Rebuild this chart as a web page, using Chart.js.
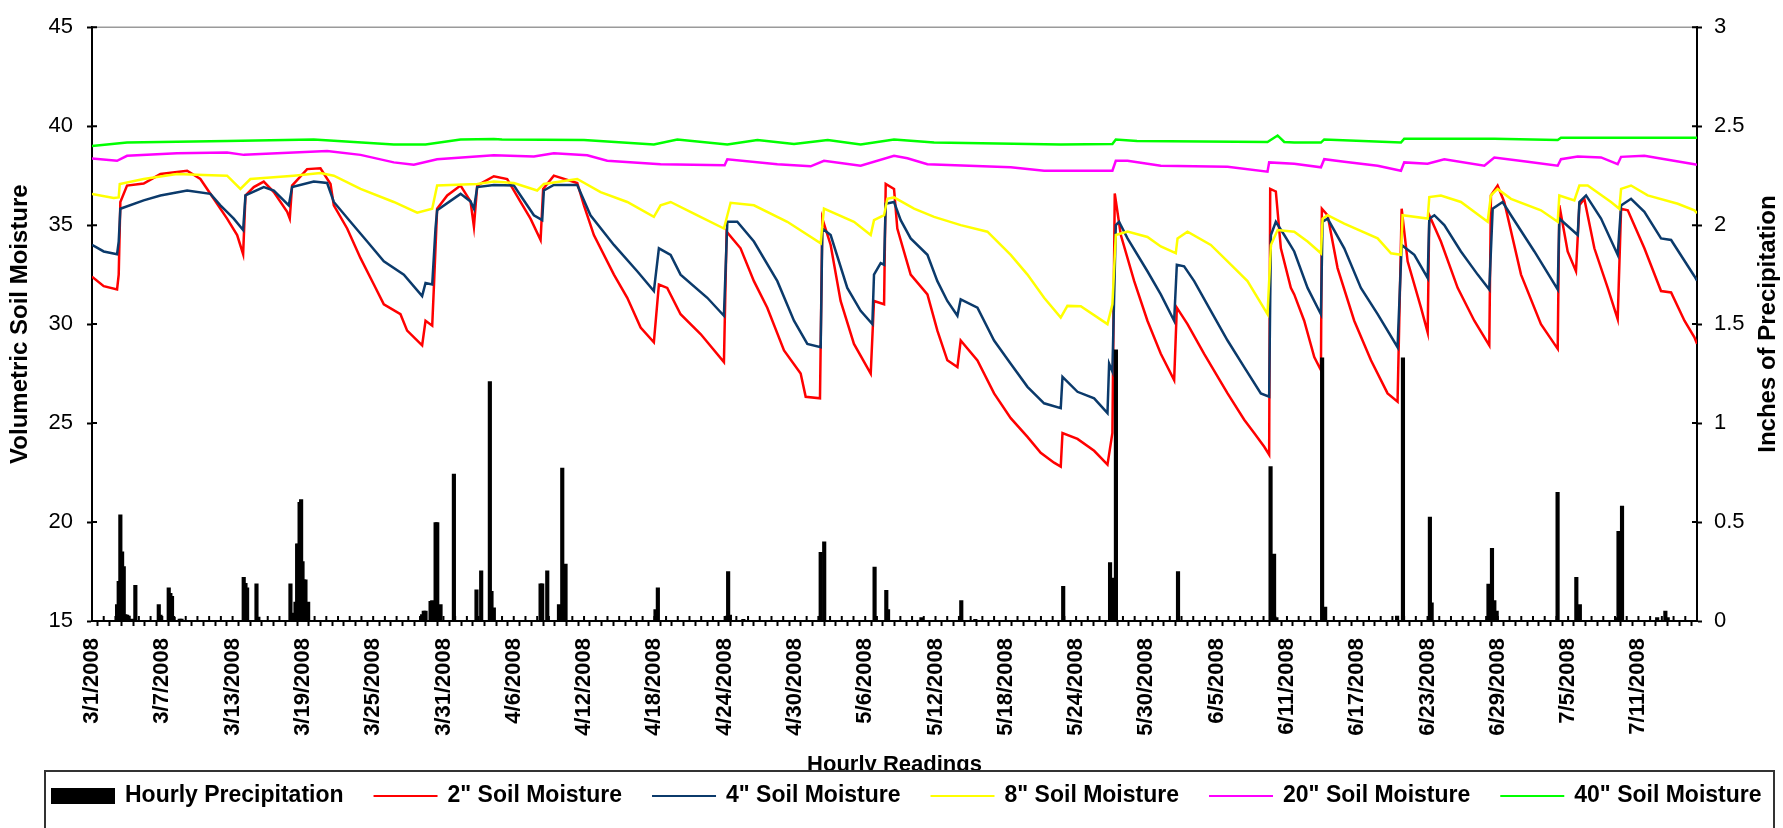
<!DOCTYPE html>
<html>
<head>
<meta charset="utf-8">
<title>Soil Moisture and Hourly Precipitation</title>
<script src="https://cdn.jsdelivr.net/npm/chart.js@4.4.1/dist/chart.umd.min.js"></script>
<style>
  html, body { margin: 0; padding: 0; background: #fff; }
  #wrap { width: 1783px; height: 828px; }
</style>
</head>
<body>
<div id="wrap"><canvas id="soilChart" width="1783" height="828"></canvas></div>
<script>
// x values are days since 3/1/2008 00:00 (hourly readings, axis runs 3/1 - 7/16)
const dateLabels = [
  "3/1/2008", "3/7/2008", "3/13/2008", "3/19/2008", "3/25/2008", "3/31/2008",
  "4/6/2008", "4/12/2008", "4/18/2008", "4/24/2008", "4/30/2008", "5/6/2008",
  "5/12/2008", "5/18/2008", "5/24/2008", "5/30/2008", "6/5/2008", "6/11/2008",
  "6/17/2008", "6/23/2008", "6/29/2008", "7/5/2008", "7/11/2008"
];

// [day, inches]
const rain = [
  [2.14, 0.083], [2.28, 0.2], [2.42, 0.537], [2.57, 0.35], [2.71, 0.275], [2.85, 0.033],
  [3.0, 0.03], [3.13, 0.025], [3.42, 0.01], [3.7, 0.18], [5.7, 0.083], [5.84, 0.03],
  [6.55, 0.167], [6.69, 0.14], [6.83, 0.125], [6.97, 0.02], [7.49, 0.01], [7.64, 0.01],
  [12.95, 0.22], [13.1, 0.19], [13.24, 0.167], [14.04, 0.188], [14.2, 0.02],
  [16.94, 0.188], [17.08, 0.04], [17.37, 0.095], [17.51, 0.39], [17.6, 0.388],
  [17.72, 0.6], [17.85, 0.613], [17.97, 0.3], [18.08, 0.208], [18.22, 0.208], [18.45, 0.095],
  [28.18, 0.033], [28.32, 0.05], [28.47, 0.05], [28.9, 0.1], [29.04, 0.103],
  [29.33, 0.497], [29.47, 0.497], [29.75, 0.083], [30.89, 0.742],
  [32.82, 0.158], [33.22, 0.253], [33.96, 1.21], [34.1, 0.15], [34.3, 0.067],
  [38.29, 0.188], [38.43, 0.188], [38.86, 0.253], [39.86, 0.083], [40.14, 0.772], [40.42, 0.287],
  [48.1, 0.058], [48.3, 0.167], [54.2, 0.025], [54.3, 0.25], [54.45, 0.03], [55.6, 0.008],
  [62.2, 0.347], [62.5, 0.4], [66.8, 0.272], [67.8, 0.155], [67.95, 0.058],
  [70.8, 0.017], [74.2, 0.103], [75.4, 0.008], [82.9, 0.175],
  [86.9, 0.295], [87.15, 0.217], [87.4, 1.37], [92.7, 0.25],
  [100.6, 0.78], [100.9, 0.338], [101.1, 0.017], [105.0, 1.33], [105.26, 0.07],
  [111.4, 0.025], [111.9, 1.33], [114.2, 0.525], [114.35, 0.092],
  [119.2, 0.187], [119.5, 0.367], [119.7, 0.103], [119.9, 0.05],
  [125.1, 0.65], [126.7, 0.22], [127.0, 0.083],
  [130.1, 0.017], [130.3, 0.453], [130.6, 0.58], [133.6, 0.017], [134.3, 0.05], [134.5, 0.017]
];

// [day, volumetric soil moisture]
const soil2 = [
  [0, 32.4], [1.0, 31.92], [2.14, 31.75], [2.28, 32.5], [2.42, 36.17], [2.99, 37.0],
  [4.41, 37.1], [5.84, 37.58], [8.12, 37.75], [9.25, 37.33], [10.39, 36.33], [11.53, 35.33],
  [12.39, 34.5], [12.9, 33.53], [13.1, 36.5], [13.81, 36.92], [14.66, 37.2], [15.52, 36.67],
  [16.66, 35.67], [16.88, 35.33], [17.08, 37.0], [18.36, 37.83], [19.5, 37.87], [20.36, 37.08],
  [20.64, 36.0], [21.78, 34.83], [22.92, 33.33], [24.06, 32.0], [24.91, 31.0], [26.33, 30.5],
  [26.9, 29.67], [28.18, 28.92], [28.47, 30.17], [29.04, 29.92], [29.18, 31.83], [29.46, 35.83],
  [30.32, 36.5], [31.46, 37.0], [32.31, 36.2], [32.6, 34.92], [32.88, 37.0], [34.3, 37.47],
  [35.44, 37.33], [36.58, 36.17], [37.43, 35.33], [38.29, 34.25], [38.51, 36.83], [39.42, 37.5],
  [41.42, 37.13], [41.99, 36.0], [42.84, 34.5], [44.55, 32.5], [45.69, 31.33], [46.83, 29.83],
  [47.96, 29.08], [48.39, 32.0], [49.1, 31.83], [50.24, 30.5], [51.95, 29.5], [53.94, 28.08],
  [54.17, 34.67], [55.36, 33.83], [56.5, 32.17], [57.64, 30.83], [59.07, 28.67], [60.49, 27.5],
  [60.92, 26.33], [62.14, 26.25], [62.34, 35.33], [63.05, 34.0], [63.9, 31.17], [65.04, 29.0],
  [66.47, 27.5], [66.75, 31.17], [67.61, 31.0], [67.75, 37.08], [68.46, 36.83],
  [68.74, 34.83], [69.88, 32.5], [71.31, 31.5], [72.16, 29.67], [73.01, 28.17], [73.87, 27.83],
  [74.15, 29.17], [75.58, 28.17], [77.0, 26.5], [78.42, 25.25], [79.85, 24.3], [80.98, 23.5],
  [82.12, 23.0], [82.69, 22.8], [82.84, 24.5], [84.12, 24.2], [85.54, 23.6], [86.68, 22.9],
  [87.1, 24.5], [87.3, 36.6], [87.82, 34.5], [88.96, 32.17], [90.09, 30.17], [91.23, 28.5],
  [92.37, 27.17], [92.6, 30.83], [93.51, 30.0], [94.93, 28.5], [96.93, 26.5], [98.35, 25.17],
  [99.2, 24.5], [100.06, 23.8], [100.48, 23.4], [100.57, 36.83], [101.05, 36.7], [101.48, 33.83],
  [102.33, 31.83], [102.62, 31.5], [103.47, 30.17], [104.33, 28.33], [104.9, 27.67], [104.98, 35.83],
  [105.47, 35.5], [106.32, 32.83], [107.74, 30.17], [109.17, 28.17], [110.59, 26.5], [111.44, 26.08],
  [111.79, 35.83], [112.3, 33.17], [113.44, 30.83], [114.01, 29.58], [114.15, 35.5], [115.14, 34.17],
  [116.57, 31.83], [117.99, 30.17], [119.27, 28.92], [119.41, 36.5], [119.98, 37.0], [120.55, 36.17],
  [121.98, 32.5], [123.68, 30.0], [125.11, 28.75], [125.25, 36.0], [125.96, 33.67], [126.67, 32.67],
  [126.96, 36.0], [127.38, 36.33], [128.24, 33.83], [129.38, 31.83], [130.23, 30.25], [130.52, 35.83],
  [131.09, 35.75], [132.51, 33.83], [133.93, 31.67], [134.79, 31.6], [135.93, 30.17], [136.78, 29.33],
  [137, 29.0]
];

const soil4 = [
  [0, 34.0], [1.0, 33.67], [2.14, 33.53], [2.28, 34.17], [2.42, 35.83], [4.41, 36.25],
  [5.84, 36.5], [8.12, 36.75], [10.11, 36.58], [10.96, 36.0], [12.1, 35.33], [12.9, 34.75],
  [13.1, 36.5], [14.66, 36.92], [15.52, 36.75], [16.8, 36.0], [17.08, 36.92], [18.93, 37.2],
  [20.07, 37.13], [20.64, 36.17], [22.06, 35.17], [23.49, 34.17], [24.91, 33.17], [26.62, 32.5],
  [28.18, 31.42], [28.47, 32.08], [29.04, 32.0], [29.32, 34.83], [29.46, 35.75], [31.46, 36.58],
  [32.31, 36.2], [32.6, 35.83], [32.88, 36.92], [34.3, 37.03], [36.01, 37.0], [36.58, 36.5],
  [37.72, 35.5], [38.43, 35.25], [38.57, 36.75], [39.42, 37.03], [41.42, 37.03], [42.55, 35.5],
  [44.55, 34.0], [46.54, 32.67], [47.96, 31.67], [48.39, 33.83], [49.39, 33.5], [50.24, 32.5],
  [52.52, 31.33], [53.94, 30.42], [54.23, 35.17], [55.08, 35.17], [56.5, 34.17], [58.5, 32.17],
  [59.92, 30.17], [61.06, 29.0], [62.2, 28.83], [62.34, 34.83], [63.05, 34.5], [64.47, 31.83],
  [65.61, 30.67], [66.61, 30.0], [66.75, 32.5], [67.32, 33.08], [67.61, 33.0], [67.75, 36.08],
  [68.46, 36.17], [69.03, 35.25], [69.88, 34.33], [71.31, 33.5], [72.16, 32.17], [73.01, 31.17],
  [73.87, 30.42], [74.15, 31.25], [75.58, 30.83], [77.0, 29.17], [78.42, 28.0], [79.85, 26.83],
  [81.27, 26.0], [82.69, 25.75], [82.84, 27.33], [84.12, 26.58], [85.54, 26.25], [86.68, 25.5],
  [86.82, 28.0], [87.1, 27.6], [87.39, 35.0], [87.67, 35.17], [88.39, 34.33], [90.09, 32.67],
  [91.23, 31.5], [92.37, 30.17], [92.6, 33.0], [93.22, 32.92], [94.08, 32.17], [95.5, 30.67],
  [96.93, 29.17], [98.35, 27.83], [99.77, 26.5], [100.48, 26.33], [100.63, 34.5], [101.05, 35.17],
  [101.77, 34.5], [102.62, 33.67], [103.76, 31.83], [104.9, 30.5], [105.04, 35.17], [105.47, 35.33],
  [106.89, 33.83], [108.31, 31.83], [109.74, 30.5], [111.44, 28.83], [111.79, 34.0], [112.87, 33.5],
  [114.01, 32.33], [114.15, 35.33], [114.58, 35.5], [115.43, 35.0], [116.85, 33.67], [118.28, 32.5],
  [119.27, 31.75], [119.56, 35.83], [120.41, 36.17], [121.12, 35.5], [123.12, 33.67], [125.11, 31.75],
  [125.25, 35.33], [126.82, 34.5], [126.96, 36.17], [127.53, 36.5], [128.81, 35.33], [130.23, 33.5],
  [130.52, 36.0], [131.37, 36.33], [132.51, 35.67], [133.93, 34.33], [134.79, 34.25], [136.78, 32.42],
  [137, 32.2]
];

const soil8 = [
  [0, 36.58], [1.85, 36.37], [2.28, 36.4], [2.37, 37.08], [4.41, 37.33], [7.26, 37.58],
  [9.54, 37.53], [11.53, 37.5], [12.67, 36.83], [13.52, 37.33], [17.22, 37.5], [19.5, 37.63],
  [20.64, 37.5], [22.92, 36.83], [25.76, 36.17], [27.76, 35.63], [29.04, 35.83], [29.46, 37.0],
  [32.88, 37.08], [34.3, 37.2], [36.01, 37.13], [38.0, 36.75], [38.57, 37.08], [41.42, 37.33],
  [43.41, 36.67], [45.69, 36.17], [47.96, 35.42], [48.53, 36.0], [49.39, 36.17], [51.38, 35.58],
  [53.94, 34.83], [54.51, 36.13], [56.5, 36.0], [59.35, 35.17], [62.2, 34.08], [62.48, 35.83],
  [65.04, 35.17], [66.47, 34.5], [66.75, 35.25], [67.61, 35.5], [67.89, 36.33], [68.46, 36.4],
  [70.17, 35.83], [71.88, 35.42], [74.15, 35.0], [76.43, 34.67], [78.42, 33.5], [79.85, 32.5],
  [81.27, 31.33], [82.69, 30.33], [83.26, 30.92], [84.4, 30.9], [86.68, 30.0], [87.1, 31.0],
  [87.39, 34.5], [88.39, 34.67], [90.09, 34.4], [91.23, 33.92], [92.51, 33.58], [92.66, 34.33],
  [93.51, 34.67], [95.5, 34.0], [96.93, 33.17], [98.63, 32.17], [100.34, 30.5], [100.63, 34.0],
  [101.2, 34.75], [102.62, 34.67], [103.76, 34.17], [104.9, 33.58], [105.04, 35.33], [105.47, 35.5],
  [106.89, 35.08], [109.74, 34.33], [110.88, 33.58], [111.73, 33.5], [111.87, 35.5], [114.01, 35.33],
  [114.15, 36.42], [115.14, 36.5], [116.85, 36.17], [119.13, 35.17], [119.41, 36.5], [119.98, 36.83],
  [121.12, 36.33], [123.68, 35.75], [125.11, 35.17], [125.25, 36.5], [126.53, 36.25], [126.96, 37.0],
  [127.67, 37.0], [129.66, 36.17], [130.37, 35.83], [130.52, 36.83], [131.37, 37.0], [132.79, 36.5],
  [135.36, 36.08], [136.78, 35.75], [137, 35.6]
];

const soil20 = [
  [0, 38.37], [2.14, 38.25], [2.99, 38.5], [7.26, 38.63], [11.53, 38.67], [12.96, 38.55],
  [20.07, 38.75], [22.92, 38.55], [25.76, 38.17], [27.47, 38.05], [29.46, 38.33], [34.3, 38.53],
  [37.72, 38.47], [39.42, 38.63], [42.27, 38.53], [43.98, 38.25], [48.53, 38.08], [54.0, 38.03],
  [54.23, 38.33], [58.5, 38.08], [61.34, 37.97], [62.48, 38.25], [65.61, 38.0], [68.46, 38.5],
  [69.6, 38.38], [71.31, 38.08], [78.42, 37.92], [81.27, 37.75], [87.1, 37.75], [87.39, 38.25],
  [88.39, 38.25], [91.23, 38.0], [96.93, 37.95], [100.34, 37.7], [100.48, 38.17], [102.62, 38.1],
  [104.9, 37.92], [105.18, 38.33], [106.89, 38.2], [109.74, 38.0], [111.73, 37.75], [112.01, 38.17],
  [114.0, 38.1], [115.43, 38.33], [118.85, 38.0], [119.7, 38.42], [122.55, 38.2], [125.11, 38.0],
  [125.39, 38.33], [126.82, 38.47], [128.81, 38.42], [130.23, 38.08], [130.52, 38.45], [132.51, 38.5],
  [136.78, 38.08], [137, 38.05]
];

const soil40 = [
  [0, 39.0], [2.99, 39.17], [11.53, 39.25], [18.93, 39.33], [25.76, 39.08], [28.47, 39.08],
  [31.46, 39.33], [34.3, 39.35], [35.0, 39.33], [41.99, 39.3], [47.96, 39.08], [49.96, 39.33],
  [54.23, 39.08], [56.8, 39.3], [59.92, 39.1], [62.8, 39.3], [65.61, 39.08], [68.46, 39.33],
  [71.88, 39.17], [82.69, 39.08], [87.1, 39.1], [87.39, 39.33], [89.2, 39.25], [100.34, 39.2],
  [101.2, 39.53], [101.77, 39.2], [102.62, 39.17], [104.9, 39.17], [105.18, 39.33], [111.73, 39.17],
  [112.01, 39.37], [119.7, 39.37], [125.11, 39.3], [125.39, 39.42], [137, 39.42]
];

const FONT = '"Liberation Sans", Arial, Helvetica, sans-serif';

function toPoints(pairs) {
  return pairs.map((p) => ({ x: p[0], y: p[1] }));
}

function lineSet(label, pairs, color, order) {
  return {
    type: "line",
    label,
    data: toPoints(pairs),
    yAxisID: "y",
    borderColor: color,
    backgroundColor: color,
    borderWidth: 2.5,
    pointRadius: 0,
    tension: 0,
    order
  };
}

// draws the parts Excel has that Chart.js doesn't: crossing ticks, grey top edge,
// right-hand title reading upward, and the boxed legend over the x title
const chartExtras = {
  id: "chartExtras",
  afterDraw(chart) {
    const ctx = chart.ctx;
    const area = chart.chartArea;
    const sx = chart.scales.x;
    const sy = chart.scales.y;
    const sy2 = chart.scales.y2;
    ctx.save();

    ctx.strokeStyle = "#9a9a9a";
    ctx.lineWidth = 1.5;
    ctx.beginPath();
    ctx.moveTo(area.left, area.top);
    ctx.lineTo(area.right, area.top);
    ctx.stroke();

    ctx.strokeStyle = "#000";
    ctx.lineWidth = 2;
    ctx.beginPath();
    sx.ticks.forEach((t) => {
      const px = sx.getPixelForValue(t.value);
      ctx.moveTo(px, area.bottom);
      ctx.lineTo(px, area.bottom - 5);
    });
    sy.ticks.forEach((t) => {
      const py = sy.getPixelForValue(t.value);
      ctx.moveTo(area.left, py);
      ctx.lineTo(area.left + 5, py);
    });
    sy2.ticks.forEach((t) => {
      const py = sy2.getPixelForValue(t.value);
      ctx.moveTo(area.right, py);
      ctx.lineTo(area.right - 5, py);
    });
    ctx.stroke();

    ctx.fillStyle = "#000";
    ctx.font = "bold 24px " + FONT;
    ctx.textAlign = "center";
    ctx.textBaseline = "middle";
    ctx.save();
    ctx.translate(1768, (area.top + area.bottom) / 2);
    ctx.rotate(-Math.PI / 2);
    ctx.fillText("Inches of Precipitation", 0, 0);
    ctx.restore();

    // legend box
    const boxTop = 771;
    ctx.fillStyle = "#fff";
    ctx.fillRect(45, boxTop, 1729, 80);
    ctx.strokeStyle = "#333";
    ctx.lineWidth = 2;
    ctx.strokeRect(45, boxTop, 1729, 80);

    const midY = 796;
    let x = 51;
    ctx.font = "bold 23px " + FONT;
    ctx.textAlign = "left";
    chart.data.datasets.forEach((ds) => {
      if (ds.type === "bar") {
        ctx.fillStyle = ds.backgroundColor;
        ctx.fillRect(x, midY - 8, 64, 16);
      } else {
        ctx.strokeStyle = ds.borderColor;
        ctx.lineWidth = 2;
        ctx.beginPath();
        ctx.moveTo(x, midY);
        ctx.lineTo(x + 64, midY);
        ctx.stroke();
      }
      x += 64 + 10;
      ctx.fillStyle = "#000";
      ctx.fillText(ds.label, x, midY);
      x += ctx.measureText(ds.label).width + 30;
    });

    ctx.restore();
  }
};

const axisFont = { family: FONT, size: 22 };
const boldFont = { family: FONT, size: 22, weight: "bold" };

new Chart(document.getElementById("soilChart"), {
  data: {
    datasets: [
      {
        type: "bar",
        label: "Hourly Precipitation",
        data: toPoints(rain),
        yAxisID: "y2",
        backgroundColor: "#000",
        borderWidth: 0,
        barThickness: 3.5,
        order: 0
      },
      lineSet('2" Soil Moisture', soil2, "#ff0000", 5),
      lineSet('4" Soil Moisture', soil4, "#0b3a6b", 4),
      lineSet('8" Soil Moisture', soil8, "#ffff00", 3),
      lineSet('20" Soil Moisture', soil20, "#ff00ff", 2),
      lineSet('40" Soil Moisture', soil40, "#00ff00", 1)
    ]
  },
  options: {
    responsive: false,
    animation: false,
    layout: { padding: { top: 20, left: 0, right: 0, bottom: 0 } },
    plugins: {
      legend: { display: false },
      tooltip: { enabled: false }
    },
    scales: {
      x: {
        type: "linear",
        min: 0,
        max: 137,
        offset: false,
        border: { color: "#000", width: 2 },
        grid: { drawOnChartArea: false, tickLength: 5, tickWidth: 2, tickColor: "#000" },
        ticks: {
          stepSize: 1,
          autoSkip: false,
          minRotation: 90,
          maxRotation: 90,
          padding: 12,
          color: "#000",
          font: boldFont,
          callback: (v) => (v % 6 === 0 && dateLabels[v / 6]) ? dateLabels[v / 6] : ""
        },
        title: {
          display: true,
          text: "Hourly Readings",
          color: "#000",
          font: boldFont,
          padding: { top: 0, bottom: 50 }
        },
        afterFit: (s) => { s.height = 207; }
      },
      y: {
        position: "left",
        min: 15,
        max: 45,
        border: { color: "#000", width: 2 },
        grid: { drawOnChartArea: false, tickLength: 5, tickWidth: 2, tickColor: "#000" },
        ticks: { stepSize: 5, padding: 14, color: "#000", font: axisFont },
        title: {
          display: true,
          text: "Volumetric Soil Moisture",
          color: "#000",
          font: { family: FONT, size: 24, weight: "bold" },
          padding: { top: 6, bottom: 0 }
        },
        afterFit: (s) => { s.width = 92; }
      },
      y2: {
        position: "right",
        min: 0,
        max: 3,
        border: { color: "#000", width: 2 },
        grid: { drawOnChartArea: false, tickLength: 5, tickWidth: 2, tickColor: "#000" },
        ticks: {
          stepSize: 0.5,
          padding: 12,
          color: "#000",
          font: axisFont,
          callback: (v) => String(v)
        },
        afterFit: (s) => { s.width = 86; }
      }
    }
  },
  plugins: [chartExtras]
});
</script>
</body>
</html>
